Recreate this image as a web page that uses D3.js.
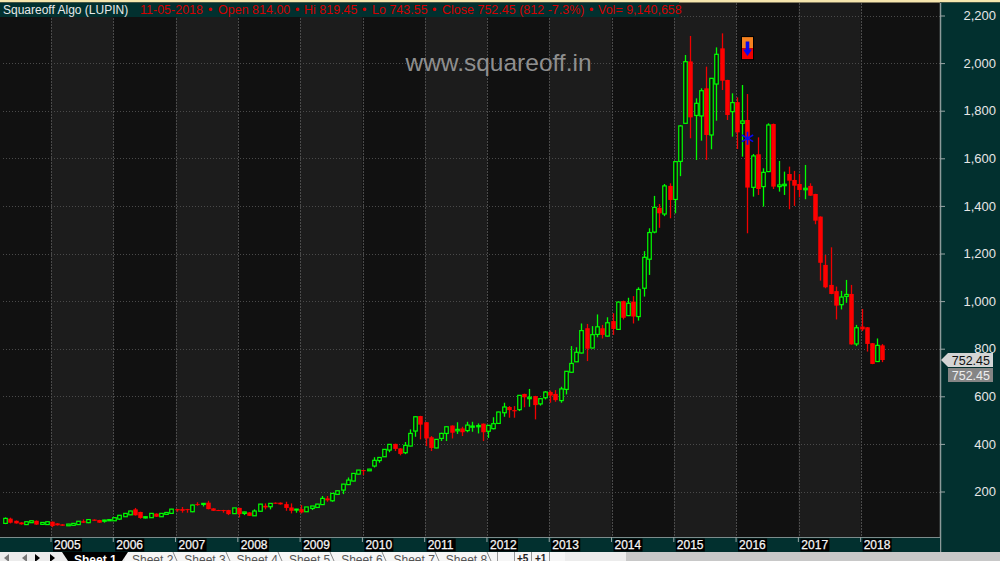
<!DOCTYPE html>
<html>
<head>
<meta charset="utf-8">
<style>
  html, body { margin: 0; padding: 0; background: #111; overflow: hidden; }
  svg { display: block; font-family: "Liberation Sans", Arial, sans-serif; }
</style>
</head>
<body>
<script src="https://cdn.jsdelivr.net/npm/d3@7"></script>
<div id="chart"></div>
<script>
// monthly candles, Apr 2004 to May 2018
var opens = [66,86,77,70,61,69,77,62,61,73,66,62,56,58,61,75,69,82,80,75,
  77,77,84,94,102,125,114,89,90,107,94,104,108,126,126,126,115,147,146,153,
  129,122,122,122,107,131,108,112,98,117,140,136,153,153,147,133,122,126,115,129,
  133,145,171,161,188,206,229,244,273,290,287,307,330,346,374,400,381,363,391,454,
  517,491,428,383,423,444,477,455,465,456,470,472,485,453,464,486,531,555,542,544,
  610,590,601,568,594,618,610,582,629,701,745,782,886,803,860,886,853,916,881,1000,
  939,998,935,1054,1176,1290,1392,1366,1484,1427,1587,1747,2007,1780,1778,1894,1698,1912,2062,1929,
  1796,1836,1747,1761,1478,1617,1481,1544,1744,1481,1485,1534,1509,1492,1468,1484,1450,1355,1152,1068,
  1042,985,1020,1030,820,893,890,823,746,814];
var highs = [91,90,78,71,74,78,78,70,74,74,67,63,64,67,76,83,82,83,81,81,
  82,90,100,109,119,131,115,95,109,108,109,113,127,127,135,127,145,155,151,161,
  130,123,123,123,131,132,115,113,125,148,150,151,154,154,157,150,127,143,135,139,
  148,181,181,192,204,232,259,276,290,291,295,344,344,378,399,401,382,408,461,515,
  518,492,433,419,447,473,478,491,472,493,493,486,486,479,512,535,573,559,559,605,
  611,631,602,590,622,624,626,640,706,811,806,906,904,895,944,900,932,949,997,1002,
  1014,1021,1058,1210,1306,1442,1408,1492,1495,1587,1740,2034,2114,1852,1894,1985,1937,2066,2125,1930,
  1873,1856,1908,1870,1618,1688,1558,1747,1746,1589,1544,1565,1547,1534,1572,1495,1451,1356,1194,1226,
  1061,1043,1089,1068,900,967,891,824,843,819.45];
var lows = [63,66,65,61,60,68,60,61,60,50,57,55,55,57,60,68,67,77,68,69,
  77,76,80,93,101,99,86,87,89,93,93,103,107,115,111,111,113,140,137,125,
  118,118,111,101,106,91,101,97,97,116,125,125,149,145,119,108,111,108,114,122,
  132,144,157,157,187,189,228,243,272,269,286,301,321,345,365,370,352,357,390,430,
  419,391,370,382,412,412,423,442,433,449,451,444,412,425,461,485,514,510,510,538,
  554,556,503,561,587,573,577,573,608,699,744,780,748,801,848,843,851,858,880,923,
  937,906,918,1019,1110,1285,1308,1357,1348,1369,1525,1745,1684,1593,1674,1593,1638,1758,1887,1761,
  1691,1639,1607,1285,1439,1446,1397,1542,1471,1460,1446,1386,1400,1436,1428,1442,1323,1086,1054,1029,
  923,965,993,817,811,874,788,735,744,743.55];
var closes = [87,69,66,62,73,77,61,70,73,55,58,56,63,66,75,69,82,77,69,80,
  82,90,100,108,118,100,89,94,108,94,108,112,126,121,119,122,143,145,150,126,
  119,119,118,105,131,105,114,98,118,147,133,150,150,146,131,119,126,112,135,139,
  147,171,163,192,203,231,248,276,290,286,294,331,343,377,398,379,358,394,444,514,
  481,423,383,419,444,472,447,461,449,479,475,477,449,478,485,534,555,542,537,604,
  596,596,563,590,618,603,584,631,705,738,785,876,800,859,892,858,909,883,996,930,
  991,935,1049,1184,1288,1394,1369,1484,1425,1586,1736,2006,1772,1831,1884,1698,1936,2037,1926,1782,
  1834,1709,1757,1477,1610,1471,1541,1740,1481,1488,1491,1506,1485,1467,1474,1443,1338,1161,1058,1030,
  981,1017,1028,818,888,881,820,736,814,752.45];

var yearLabels = [2005,2006,2007,2008,2009,2010,2011,2012,2013,2014,2015,2016,2017,2018];
var yearStarts = [9,21,33,45,57,69,81,93,105,117,129,141,153,165]; // candle index of each January
var priceTicks = [200,400,600,800,1000,1200,1400,1600,1800,2000,2200];
var lastPrice = 752.45;
var sellSignal = {month: 143, arrow: 2063, star: 1684};
var sheetNames = ["Sheet 1","Sheet 2","Sheet 3","Sheet 4","Sheet 5","Sheet 6","Sheet 7","Sheet 8"];
var quoteParts = ["11-05-2018","\u2022","Open 814.00","\u2022","Hi 819.45","\u2022","Lo 743.55","\u2022","Close 752.45 (812 -7.3%)","\u2022","Vol= 9,140,658"];

var width = 1000, height = 561;
var plotRight = 940, plotBottom = 537;

var svg = d3.select("#chart").append("svg")
    .attr("width", width)
    .attr("height", height);

var x = d3.scaleBand()
    .domain(d3.range(opens.length))
    .range([2.7, 2.7 + 5.19 * opens.length]);

// 2200 sits at y=15.5, 200 at y=491.5
var y = d3.scaleLinear().domain([200, 2200]).range([491.5, 15.5]);

function xMid(i) { return x(i) + x.bandwidth() / 2; }

// plot background, one shade per year
svg.append("rect").attr("width", width).attr("height", height).attr("fill", "#111111");

var yearEdges = yearStarts.map(function(d) { return xMid(d) - 0.8; });
svg.selectAll(".yearband").data(yearEdges).enter().append("rect")
    .attr("class", "yearband")
    .attr("x", function(d) { return d; })
    .attr("y", 3)
    .attr("width", function(d, i) { return (i < yearEdges.length - 1 ? yearEdges[i + 1] : plotRight) - d; })
    .attr("height", plotBottom - 3)
    .attr("fill", function(d, i) { return i % 2 == 0 ? "#1c1c1c" : "#111111"; });

// grid
svg.selectAll(".hgrid").data(priceTicks).enter().append("line")
    .attr("class", "hgrid")
    .attr("x1", 3).attr("x2", plotRight)
    .attr("y1", function(d) { return Math.round(y(d)) + 0.5; })
    .attr("y2", function(d) { return Math.round(y(d)) + 0.5; })
    .attr("stroke", "#4a4a4a")
    .attr("stroke-dasharray", "1,2");

svg.selectAll(".vgrid").data(yearEdges).enter().append("line")
    .attr("class", "vgrid")
    .attr("x1", function(d) { return Math.round(d) + 0.5; })
    .attr("x2", function(d) { return Math.round(d) + 0.5; })
    .attr("y1", 3).attr("y2", plotBottom)
    .attr("stroke", "#4a4a4a")
    .attr("stroke-dasharray", "2,1");

// header strip
svg.append("rect").attr("width", width).attr("height", 2.5).attr("fill", "#f6e6ae");
svg.append("rect").attr("y", 2.5).attr("width", 679).attr("height", 14.5).attr("fill", "#02302f");
svg.append("text").attr("x", 3).attr("y", 14)
    .attr("fill", "#e8e8e8").style("font-size", "12px")
    .text("Squareoff Algo (LUPIN)");

var quoteX = [140, 208, 218, 295, 304, 362, 372, 432, 442, 589, 598];
svg.selectAll(".quote").data(quoteParts).enter().append("text")
    .attr("class", "quote")
    .attr("x", function(d, i) { return quoteX[i]; })
    .attr("y", 14)
    .attr("fill", "#d40000")
    .style("font-size", "12.5px")
    .text(function(d) { return d; });

// watermark
svg.append("text").attr("x", 498.5).attr("y", 71)
    .attr("text-anchor", "middle")
    .attr("fill", "#8f8f8f").style("font-size", "24.5px")
    .text("www.squareoff.in");

// candles
var candles = svg.append("g").selectAll("g")
    .data(opens.map(function(d, i) { return i; }))
    .enter().append("g");

function isUp(i) { return closes[i] >= opens[i]; }
function colour(i) { return isUp(i) ? "#00ff00" : "#f00000"; }

candles.append("line")
    .attr("x1", function(i) { return Math.round(xMid(i)) + 0.5; })
    .attr("x2", function(i) { return Math.round(xMid(i)) + 0.5; })
    .attr("y1", function(i) { return y(highs[i]); })
    .attr("y2", function(i) { return y(lows[i]); })
    .attr("stroke", colour)
    .attr("stroke-width", 1.3);

candles.append("rect")
    .attr("x", function(i) { return Math.round(xMid(i)) + 0.5 - (isUp(i) ? 1.75 : 2.25); })
    .attr("width", function(i) { return isUp(i) ? 3.5 : 4.5; })
    .attr("y", function(i) { return y(Math.max(opens[i], closes[i])); })
    .attr("height", function(i) { return Math.max(1, Math.abs(y(opens[i]) - y(closes[i]))); })
    .attr("fill", function(i) { return isUp(i) ? "#0c0c0c" : "#ff0000"; })
    .attr("stroke", function(i) { return isUp(i) ? "#00ff00" : "none"; })
    .attr("stroke-width", 1.2);

// sell signal marker
var signalX = Math.round(xMid(sellSignal.month)) + 0.5;
var arrowY = y(sellSignal.arrow);
svg.append("rect").attr("x", signalX - 6.5).attr("y", arrowY - 12).attr("width", 13).attr("height", 24)
    .attr("fill", "#000");
svg.append("rect").attr("x", signalX - 5.5).attr("y", arrowY - 11).attr("width", 11).attr("height", 11)
    .attr("fill", "#f58220");
svg.append("rect").attr("x", signalX - 5.5).attr("y", arrowY).attr("width", 11).attr("height", 11)
    .attr("fill", "#f00000");
svg.append("path")
    .attr("transform", "translate(" + signalX + "," + arrowY + ")")
    .attr("d", "M-1.8,-6.5 L1.8,-6.5 L1.8,1.5 L4.5,1.5 L0,8 L-4.5,1.5 L-1.8,1.5 Z")
    .attr("fill", "#0808f0");
svg.append("path")
    .attr("transform", "translate(" + signalX + "," + y(sellSignal.star) + ")")
    .attr("d", d3.symbol().type(d3.symbolAsterisk).size(120)())
    .attr("fill", "none")
    .attr("stroke", "#0808f0")
    .attr("stroke-width", 1.6);

// price axis panel
svg.append("rect").attr("x", plotRight).attr("y", 2.5).attr("width", width - plotRight).attr("height", 549.5)
    .attr("fill", "#02302f");
svg.append("line").attr("x1", plotRight + 0.5).attr("x2", plotRight + 0.5).attr("y1", 3).attr("y2", 552)
    .attr("stroke", "#8c9a9a").attr("stroke-width", 1.5);

var yAxis = svg.append("g")
    .attr("transform", "translate(" + plotRight + ",0)")
    .call(d3.axisRight(y).tickValues(priceTicks).tickSize(5).tickFormat(d3.format(",")));
yAxis.select(".domain").remove();
yAxis.selectAll("line").attr("stroke", "#9aa5a5");
yAxis.selectAll("text")
    .attr("x", 56)
    .attr("text-anchor", "end")
    .attr("fill", "#e6e6e6")
    .style("font-size", "13px")
    .style("font-family", "'Liberation Sans', Arial, sans-serif");

// last price tags
svg.append("path")
    .attr("d", "M941," + y(lastPrice) + " L948," + (y(lastPrice) - 7) + " L993," + (y(lastPrice) - 7) +
        " L993," + (y(lastPrice) + 7) + " L948," + (y(lastPrice) + 7) + " Z")
    .attr("fill", "#d4d4d4");
svg.append("text").attr("x", 990).attr("y", y(lastPrice) + 4.5)
    .attr("text-anchor", "end").attr("fill", "#111").style("font-size", "12.5px")
    .text(lastPrice.toFixed(2));
svg.append("rect").attr("x", 948).attr("y", y(lastPrice) + 8).attr("width", 45).attr("height", 14)
    .attr("fill", "#858585");
svg.append("text").attr("x", 990).attr("y", y(lastPrice) + 19.5)
    .attr("text-anchor", "end").attr("fill", "#eee").style("font-size", "12.5px")
    .text(lastPrice.toFixed(2));

// time axis strip
svg.append("rect").attr("x", 0).attr("y", plotBottom).attr("width", plotRight).attr("height", 15)
    .attr("fill", "#02302f");
svg.append("line").attr("x1", 0).attr("x2", plotRight).attr("y1", plotBottom + 0.5).attr("y2", plotBottom + 0.5)
    .attr("stroke", "#7c8c8c");

var xAxis = svg.append("g")
    .attr("transform", "translate(-1," + plotBottom + ")")
    .call(d3.axisBottom(x).tickValues(yearStarts).tickSize(5)
        .tickFormat(function(d, i) { return yearLabels[i]; }));
xAxis.select(".domain").remove();
xAxis.selectAll("line").attr("stroke", "#9aa5a5");
xAxis.selectAll(".tick").insert("rect", "text")
    .attr("x", 2).attr("y", 1.5).attr("width", 29).attr("height", 13)
    .attr("fill", "#000");
xAxis.selectAll("text")
    .attr("x", 3)
    .attr("y", 3)
    .attr("text-anchor", "start")
    .attr("fill", "#f6f6f6")
    .attr("stroke", "#f6f6f6")
    .attr("stroke-width", 0.25)
    .style("font-size", "12px")
    .style("font-family", "'Liberation Sans', Arial, sans-serif");

// sheet tabs along the bottom
svg.append("rect").attr("y", 552).attr("width", width).attr("height", 9).attr("fill", "#ececec");
svg.append("rect").attr("x", 626).attr("y", 552).attr("width", 374).attr("height", 9).attr("fill", "#c8c8c8");
svg.append("rect").attr("x", 125).attr("y", 552).attr("width", 440).attr("height", 9).attr("fill", "#f6f6f6");
svg.append("path").attr("d", "M62,552 L128,552 L122,561 L68,561 Z").attr("fill", "#000");

var navButtons = [6, 24, 38, 53];
svg.selectAll(".nav").data(navButtons).enter().append("path")
    .attr("class", "nav")
    .attr("transform", function(d) { return "translate(" + d + ",557)"; })
    .attr("d", function(d, i) { return i < 2 ? "M3,-3 L-2,1 L3,5 Z" : "M-3,-3 L2,1 L-3,5 Z"; })
    .attr("fill", function(d, i) { return i < 2 ? "#777" : "#000"; });

// little separators between the tabs and the tool buttons
var tabEdges = [177, 230, 282, 334, 386, 439, 491];
svg.selectAll(".tabedge").data(tabEdges).enter().append("path")
    .attr("class", "tabedge")
    .attr("d", function(d) { return "M" + (d - 4) + ",552 L" + d + ",561"; })
    .attr("stroke", "#888")
    .attr("fill", "none");
var toolEdges = [497, 514, 531, 549];
svg.selectAll(".tooledge").data(toolEdges).enter().append("line")
    .attr("class", "tooledge")
    .attr("x1", function(d) { return d + 0.5; })
    .attr("x2", function(d) { return d + 0.5; })
    .attr("y1", 552).attr("y2", 561)
    .attr("stroke", "#999");

svg.selectAll(".sheet").data(sheetNames).enter().append("text")
    .attr("class", "sheet")
    .attr("x", function(d, i) { return i == 0 ? 74 : 132 + (i - 1) * 52.3; })
    .attr("y", 564)
    .attr("fill", function(d, i) { return i == 0 ? "#fff" : "#555"; })
    .style("font-size", "12px")
    .style("font-weight", function(d, i) { return i == 0 ? "bold" : "normal"; })
    .text(function(d) { return d; });

svg.selectAll(".toolbtn").data(["+5", "+1"]).enter().append("text")
    .attr("class", "toolbtn")
    .attr("x", function(d, i) { return 517 + i * 18; })
    .attr("y", 562)
    .attr("fill", "#222")
    .style("font-size", "10px")
    .style("font-weight", "bold")
    .text(function(d) { return d; });
</script>
</body>
</html>
